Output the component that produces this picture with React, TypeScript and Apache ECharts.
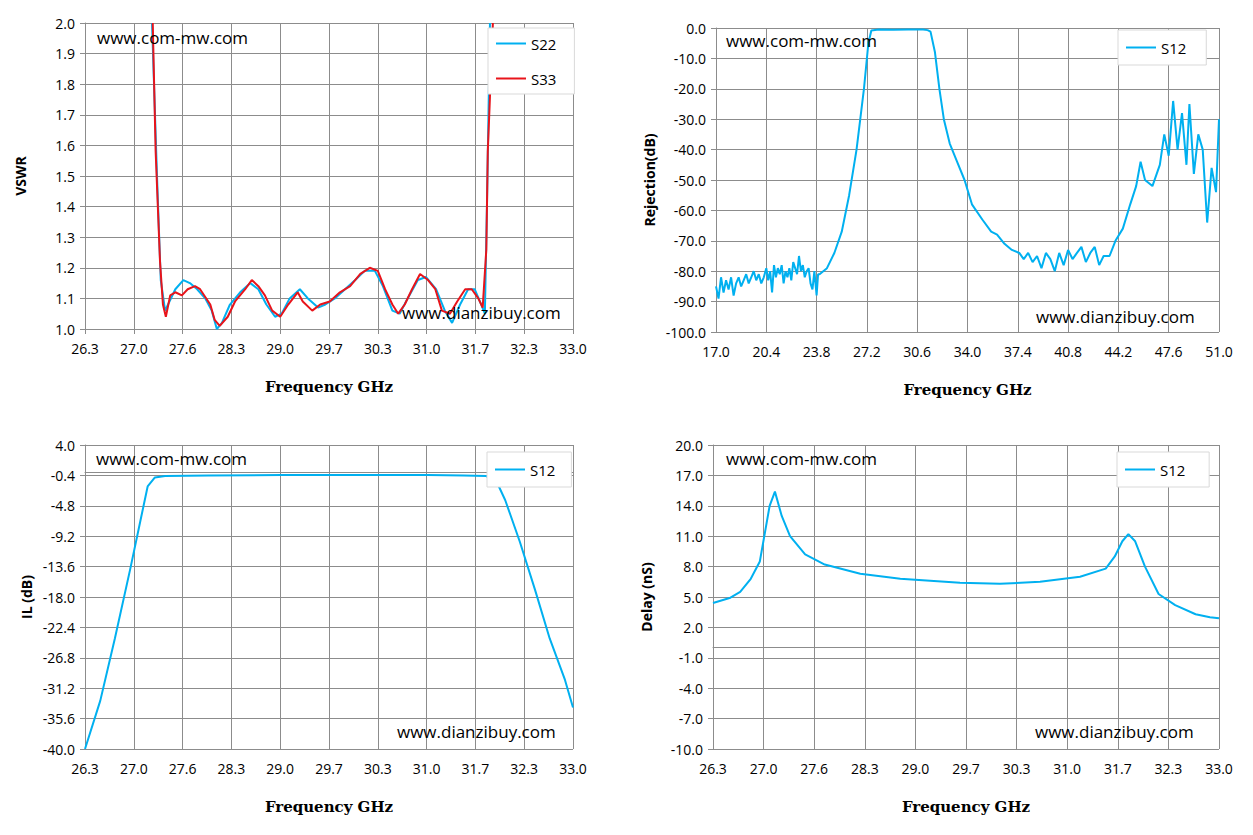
import React, { useEffect, useRef } from 'react';
import * as echarts from 'echarts';

// VSWR chart (GHz / ratio)
const s22Freq = [27.22, 27.29, 27.34, 27.40, 27.44, 27.54, 27.65, 27.74, 27.84, 27.95, 28.04, 28.11, 28.18, 28.29, 28.43, 28.57, 28.68, 28.79, 28.91, 29.00, 29.11, 29.25, 29.36, 29.50, 29.60, 29.73, 29.87, 30.01, 30.14, 30.28, 30.39, 30.52, 30.62, 30.73, 30.87, 30.98, 31.12, 31.24, 31.34, 31.45, 31.56, 31.65, 31.74, 31.79, 31.82, 31.86];
const s22Vals = [2.0, 1.49, 1.16, 1.06, 1.08, 1.13, 1.16, 1.15, 1.13, 1.10, 1.06, 1.00, 1.02, 1.08, 1.12, 1.15, 1.13, 1.08, 1.04, 1.05, 1.10, 1.13, 1.10, 1.07, 1.08, 1.10, 1.13, 1.16, 1.19, 1.19, 1.14, 1.06, 1.05, 1.10, 1.16, 1.17, 1.13, 1.06, 1.02, 1.08, 1.13, 1.13, 1.08, 1.05, 1.42, 2.0];
const s33Freq = [27.23, 27.27, 27.33, 27.37, 27.41, 27.47, 27.54, 27.63, 27.71, 27.81, 27.88, 28.02, 28.08, 28.15, 28.26, 28.36, 28.50, 28.59, 28.68, 28.77, 28.87, 28.98, 29.09, 29.22, 29.29, 29.42, 29.53, 29.66, 29.80, 29.94, 30.08, 30.21, 30.32, 30.42, 30.52, 30.60, 30.69, 30.79, 30.90, 31.01, 31.11, 31.20, 31.31, 31.41, 31.52, 31.61, 31.70, 31.76, 31.81, 31.83, 31.86, 31.90];
const s33Vals = [2.0, 1.58, 1.22, 1.08, 1.04, 1.11, 1.12, 1.11, 1.13, 1.14, 1.13, 1.08, 1.03, 1.01, 1.04, 1.09, 1.13, 1.16, 1.14, 1.11, 1.06, 1.04, 1.08, 1.12, 1.09, 1.06, 1.08, 1.09, 1.12, 1.14, 1.18, 1.20, 1.19, 1.13, 1.08, 1.05, 1.08, 1.13, 1.18, 1.16, 1.13, 1.06, 1.05, 1.09, 1.13, 1.13, 1.10, 1.07, 1.26, 1.58, 1.76, 2.0];

// Rejection chart (GHz / dB)
const rejFreq = [
  17.0, 17.17, 17.34, 17.51, 17.68, 17.85, 18.02, 18.19, 18.36, 18.53, 18.70, 18.87, 19.04, 19.21, 19.38, 19.55, 19.72, 19.89, 20.06, 20.23,
  20.40, 20.53, 20.66, 20.79, 20.92, 21.05, 21.18, 21.31, 21.44, 21.57, 21.70, 21.83, 21.96, 22.09, 22.22, 22.35, 22.48, 22.61, 22.74, 22.87, 23.00, 23.13, 23.26, 23.39, 23.52, 23.65, 23.80, 23.90, 24.0,
  24.5, 25.0, 25.5, 26.0, 26.5, 27.0, 27.3, 27.5, 28.0, 29.0, 30.0, 31.0, 31.3, 31.5, 31.8, 32.1, 32.4, 32.8, 33.3, 33.8, 34.3, 35.0, 35.6, 36.0, 36.5, 37.0, 37.5,
  37.8, 38.1, 38.4, 38.7, 39.0, 39.3, 39.6, 39.9, 40.2, 40.5, 40.8, 41.1, 41.4, 41.7, 42.0, 42.3, 42.6, 42.9, 43.2, 43.6, 44.0, 44.5, 45.0, 45.4, 45.7, 46.0, 46.5, 47.0, 47.3, 47.6, 47.9, 48.2, 48.5, 48.8, 49.0, 49.3, 49.6, 49.9, 50.2, 50.5, 50.8, 51.0,
];
const rejVals = [
  -85, -89, -82, -87, -83, -86, -82, -88, -84, -82, -85, -83, -81, -84, -82, -80, -83, -81, -84, -82,
  -79, -83, -80, -87, -78, -82, -79, -81, -78, -84, -80, -82, -79, -83, -77, -79, -81, -75, -80, -78, -82, -80, -79, -84, -86, -80, -88, -81, -81,
  -79, -74, -67, -55, -40, -20, -5, -0.8, -0.5, -0.6, -0.5, -0.5, -0.7, -1.2, -8, -20, -30, -38, -44, -50, -58, -63, -67, -68, -71, -73, -74,
  -76, -74, -77, -75, -79, -74, -76, -80, -74, -78, -73, -76, -74, -72, -77, -74, -72, -78, -75, -75, -70, -66, -58, -52, -44, -50, -52, -45, -35, -42, -24, -40, -28, -45, -25, -48, -35, -40, -64, -46, -54, -30,
];

// Insertion loss chart (GHz / dB)
const ilFreq = [26.3, 26.51, 26.71, 26.92, 27.06, 27.16, 27.26, 27.40, 28.0, 29.0, 30.0, 31.0, 31.5, 31.81, 31.96, 32.07, 32.27, 32.48, 32.68, 32.89, 33.0];
const ilVals = [-40, -33, -24, -14, -7, -2, -0.7, -0.5, -0.4, -0.35, -0.35, -0.35, -0.4, -0.5, -1.5, -4, -10, -17, -24, -30, -34];

// Group delay chart (GHz / nS)
const dlFreq = [26.3, 26.52, 26.66, 26.80, 26.92, 27.05, 27.12, 27.21, 27.32, 27.52, 27.78, 28.25, 28.78, 29.57, 30.1, 30.63, 31.16, 31.5, 31.62, 31.72, 31.8, 31.89, 32.02, 32.2, 32.42, 32.69, 32.88, 33.0];
const dlVals = [4.4, 4.9, 5.5, 6.8, 8.5, 14, 15.4, 13, 11, 9.2, 8.2, 7.3, 6.8, 6.4, 6.3, 6.5, 7.0, 7.8, 9.0, 10.5, 11.2, 10.5, 8, 5.3, 4.2, 3.3, 3.0, 2.9];

const zip = (xs: number[], ys: number[]) => xs.map((x, i) => [x, ys[i]]);

const BLUE = '#00B0F0';
const RED = '#E8141B';
const GRID_COLOR = '#8C8C8C';
const FONT = '"Open Sans", "DejaVu Sans", sans-serif';

const App: React.FC = () => {
  const chartRef = useRef<HTMLDivElement>(null);

  useEffect(() => {
    if (!chartRef.current) return;
    const chart = echarts.init(chartRef.current, undefined, { renderer: 'svg' });

    const grids = [
      { left: 85, top: 23, width: 488, height: 306 },
      { left: 716, top: 28, width: 503, height: 304 },
      { left: 85, top: 445, width: 488, height: 304 },
      { left: 713, top: 445, width: 506, height: 304 },
    ];
    const xRanges = [[26.3, 33, 0.67], [17, 51, 3.4], [26.3, 33, 0.67], [26.3, 33, 0.67]];
    const yRanges = [[1, 2, 0.1], [-100, 0, 10], [-40, 4, 4.4], [-10, 20, 3]];
    const yNames = ['VSWR', 'Rejection(dB)', 'IL (dB)', 'Delay (nS)'];

    const axisLine = { show: true, lineStyle: { color: GRID_COLOR, width: 1 } };
    const label = { color: '#000', fontSize: 14, fontFamily: FONT, formatter: (v: number) => (v + 1e-6).toFixed(1) };

    const xAxis = grids.map((_, i) => ({
      type: 'value',
      gridIndex: i,
      min: xRanges[i][0],
      max: xRanges[i][1],
      interval: xRanges[i][2],
      axisLine,
      axisTick: { show: true, lineStyle: { color: GRID_COLOR }, length: 5 },
      axisLabel: { ...label, margin: 12, showMaxLabel: true },
      splitLine: { show: true, lineStyle: { color: GRID_COLOR, width: 1 } },
      name: 'Frequency GHz',
      nameLocation: 'middle',
      nameGap: 50,
      nameTextStyle: { color: '#000', fontSize: 15, fontWeight: 'bold', fontFamily: '"DejaVu Serif", serif' },
    }));
    const yAxis = grids.map((_, i) => ({
      type: 'value',
      gridIndex: i,
      min: yRanges[i][0],
      max: yRanges[i][1],
      interval: yRanges[i][2],
      axisLine,
      axisTick: { show: true, lineStyle: { color: GRID_COLOR }, length: 5 },
      axisLabel: { ...label, margin: 10 },
      splitLine: { show: true, lineStyle: { color: GRID_COLOR, width: 1 } },
      name: yNames[i],
      nameLocation: 'middle',
      nameGap: i === 0 ? 58 : i === 2 ? 52 : 60,
      nameTextStyle: { color: '#000', fontSize: 14, fontWeight: 'bold', fontFamily: FONT },
    }));

    const line = (name: string, i: number, data: number[][], color: string) => ({
      name,
      type: 'line',
      xAxisIndex: i,
      yAxisIndex: i,
      data,
      showSymbol: false,
      symbol: 'none',
      clip: true,
      lineStyle: { color, width: 2 },
      itemStyle: { color },
    });

    const legendBase = {
      orient: 'vertical',
      backgroundColor: '#fff',
      borderColor: '#D9D9D9',
      borderWidth: 1,
      icon: 'rect',
      itemWidth: 30,
      itemHeight: 2,
      textStyle: { color: '#000', fontSize: 15, fontFamily: FONT },
      padding: [10, 16, 10, 8],
    };

    const wm = (left: number, top: number, text: string) => ({
      type: 'text', left, top, z: 100,
      style: { text, fill: '#000', font: `17px ${FONT}` },
    });

    chart.setOption({
      animation: false,
      backgroundColor: '#fff',
      grid: grids,
      xAxis,
      yAxis,
      legend: [
        { ...legendBase, data: ['S22', 'S33'], left: 488, top: 28, itemGap: 20, padding: [8, 18, 8, 8] },
        { ...legendBase, data: ['S12 '], left: 1118, top: 30 },
        { ...legendBase, data: ['S12'], left: 487, top: 452 },
        { ...legendBase, data: ['S12  '], left: 1117, top: 452 },
      ],
      series: [
        line('S22', 0, zip(s22Freq, s22Vals), BLUE),
        line('S33', 0, zip(s33Freq, s33Vals), RED),
        line('S12 ', 1, zip(rejFreq, rejVals), BLUE),
        line('S12', 2, zip(ilFreq, ilVals), BLUE),
        line('S12  ', 3, zip(dlFreq, dlVals), BLUE),
      ],
      graphic: [
        wm(97, 29, 'www.com-mw.com'),
        wm(402, 304, 'www.dianzibuy.com'),
        wm(726, 32, 'www.com-mw.com'),
        wm(1036, 308, 'www.dianzibuy.com'),
        wm(96, 450, 'www.com-mw.com'),
        wm(397, 723, 'www.dianzibuy.com'),
        wm(726, 450, 'www.com-mw.com'),
        wm(1035, 723, 'www.dianzibuy.com'),
      ],
    });

    return () => chart.dispose();
  }, []);

  return <div ref={chartRef} style={{ position: 'absolute', left: 0, top: 0, width: 1253, height: 835 }} />;
};

export default App;
